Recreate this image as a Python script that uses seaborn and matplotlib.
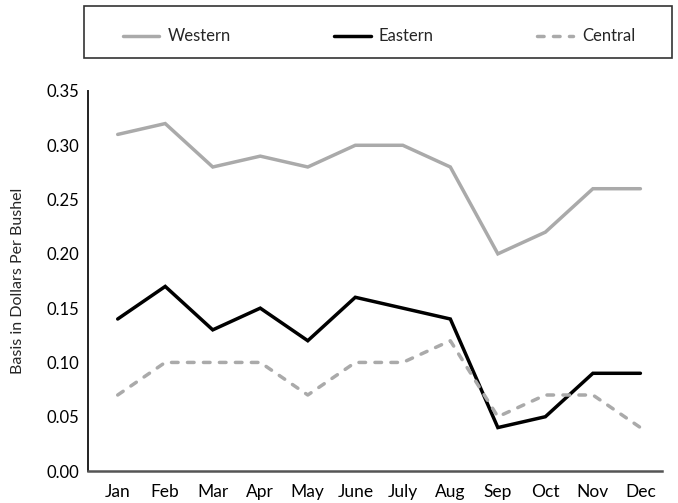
import pandas as pd
import seaborn as sns
import matplotlib.pyplot as plt
from matplotlib.patches import Rectangle

months = ["Jan", "Feb", "Mar", "Apr", "May", "June", "July", "Aug", "Sep", "Oct", "Nov", "Dec"]
western = [0.31, 0.32, 0.28, 0.29, 0.28, 0.30, 0.30, 0.28, 0.20, 0.22, 0.26, 0.26]
eastern = [0.14, 0.17, 0.13, 0.15, 0.12, 0.16, 0.15, 0.14, 0.04, 0.05, 0.09, 0.09]
central = [0.07, 0.10, 0.10, 0.10, 0.07, 0.10, 0.10, 0.12, 0.05, 0.07, 0.07, 0.04]
regions = ["Western", "Eastern", "Central"]
yticks = [0, 0.05, 0.10, 0.15, 0.20, 0.25, 0.30, 0.35]

# long format for seaborn
df = pd.DataFrame({
    "month": list(range(len(months))) * 3,
    "basis": western + eastern + central,
    "region": [r for r in regions for _ in months],
})

GRAY = "#aaaaaa"
sns.set_style("white")
plt.rcParams["font.family"] = ["Lato", "DejaVu Sans"]

fig = plt.figure(figsize=(6.78, 5.03), dpi=100)
ax = fig.add_axes([0.1298, 0.0636, 0.847, 0.7555])

sns.lineplot(
    data=df, x="month", y="basis", hue="region", style="region",
    palette={"Western": GRAY, "Eastern": "black", "Central": GRAY},
    dashes={"Western": "", "Eastern": "", "Central": (1.9, 2.7)},
    linewidth=2.5, ax=ax, legend=False,
)
for ln in ax.get_lines():
    ln.set_dash_capstyle("round")
    ln.set_solid_joinstyle("miter")

ax.set_xlim(-0.625, 11.46)
ax.set_ylim(0, 0.35)
ax.set_xticks(range(len(months)))
ax.set_xticklabels(months)
ax.set_yticks(yticks)
ax.set_yticklabels([f"{v:.2f}" for v in yticks])
ax.set_xlabel("")
ax.set_ylabel("Basis in Dollars Per Bushel", fontsize=11.5)
ax.yaxis.set_label_coords(-0.11, 0.5)
ax.tick_params(direction="in", width=1.4, labelsize=12, colors="black")
ax.tick_params(axis="x", length=7, pad=9, color="#333333", labelsize=12.5)
ax.tick_params(axis="y", length=10, pad=6, color="black")
for side in ["top", "right"]:
    ax.spines[side].set_visible(False)
ax.spines["left"].set_color("#222222")
ax.spines["left"].set_linewidth(1.4)
ax.spines["bottom"].set_color("#555555")
ax.spines["bottom"].set_linewidth(1.8)

# legend box drawn separately so the entries can sit wide apart
fig.add_artist(Rectangle((0.1239, 0.8847), 0.8673, 0.1034, transform=fig.transFigure,
                         fill=False, edgecolor="#333333", linewidth=1.2))
handles = [
    plt.Line2D([], [], color=GRAY, lw=2.5),
    plt.Line2D([], [], color="black", lw=2.5),
    plt.Line2D([], [], color=GRAY, lw=2.5, ls=(0, (1.9, 2.7)), dash_capstyle="round"),
]
fig.legend(
    handles, regions, ncol=3, mode="expand",
    bbox_to_anchor=(0.181, 0.90, 0.7556, 0.055), loc="center",
    frameon=False, fontsize=12, handlelength=2.2, handletextpad=0.5,
    borderpad=0, borderaxespad=0,
)

fig.savefig("out.png", dpi=100)
